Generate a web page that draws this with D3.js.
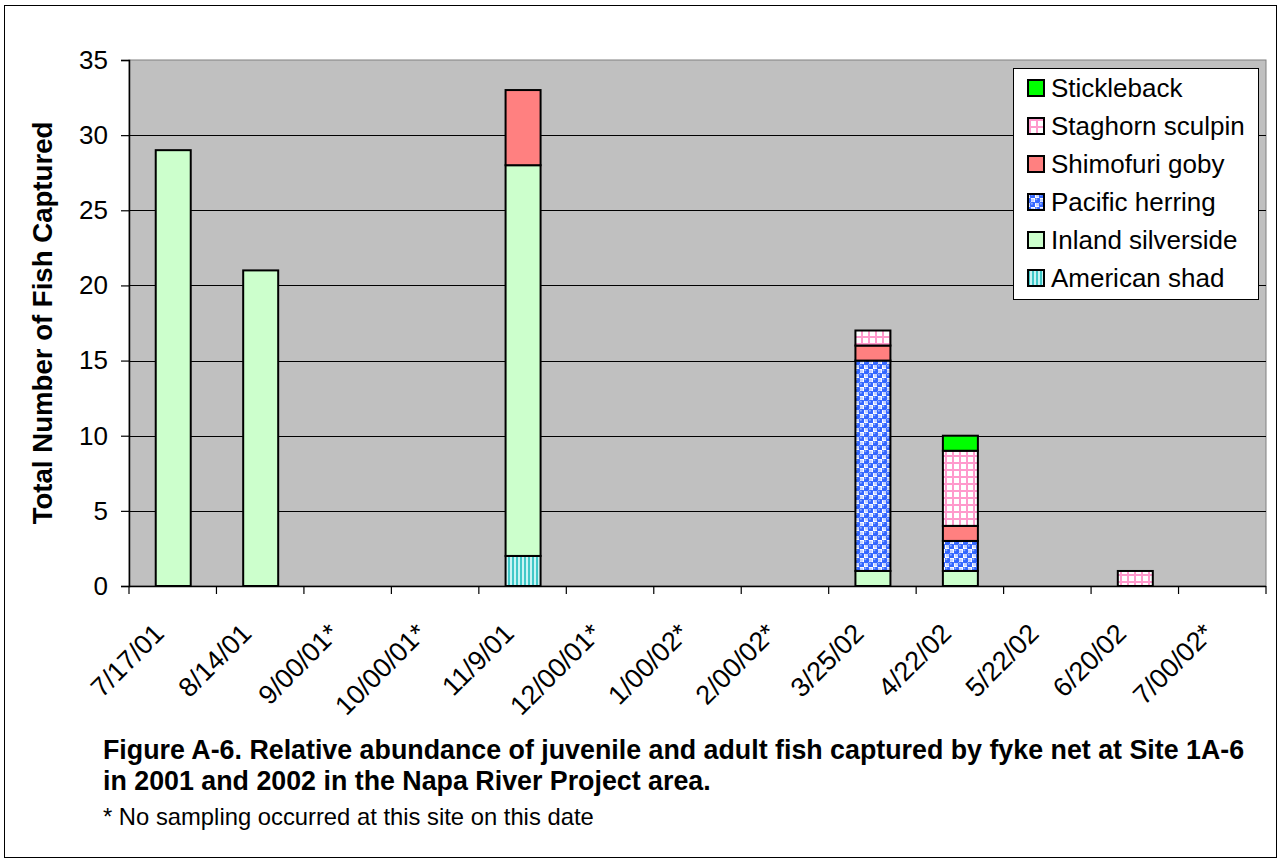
<!DOCTYPE html>
<html><head><meta charset="utf-8">
<script src="https://cdn.jsdelivr.net/npm/d3@7"></script>
<style>
html,body{margin:0;padding:0;background:#fff;}
svg{display:block;font-family:"Liberation Sans",Arial,sans-serif;}
</style></head>
<body>
<svg id="chart" width="1280" height="863"></svg>
<script>
const categories = ["7/17/01","8/14/01","9/00/01*","10/00/01*","11/9/01","12/00/01*","1/00/02*","2/00/02*","3/25/02","4/22/02","5/22/02","6/20/02","7/00/02*"];
const seriesNames = ["American shad","Inland silverside","Pacific herring","Shimofuri goby","Staghorn sculpin","Stickleback"];
const americanShad     = [0,0,0,0,2,0,0,0,0,0,0,0,0];
const inlandSilverside = [29,21,0,0,26,0,0,0,1,1,0,0,0];
const pacificHerring   = [0,0,0,0,0,0,0,0,14,2,0,0,0];
const shimofuriGoby    = [0,0,0,0,5,0,0,0,1,1,0,0,0];
const staghornSculpin  = [0,0,0,0,0,0,0,0,1,5,0,1,0];
const stickleback      = [0,0,0,0,0,0,0,0,0,1,0,0,0];
const yTicks = [0,5,10,15,20,25,30,35];
const yTitle = "Total Number of Fish Captured";
const captionLines = ["Figure A-6. Relative abundance of juvenile and adult fish captured by fyke net at Site 1A-6","in 2001 and 2002 in the Napa River Project area."];
const footnote = "* No sampling occurred at this site on this date";

(function(){
const seriesValues = [americanShad,inlandSilverside,pacificHerring,shimofuriGoby,staghornSculpin,stickleback];
const fills = ["url(#pShad)","#CCFFCC","url(#pHerring)","#FF8080","url(#pSculpin)","#00FF00"];

const svg = d3.select("#chart");
const defs = svg.append("defs");
let p = defs.append("pattern").attr("id","pShad").attr("patternUnits","userSpaceOnUse").attr("width",4).attr("height",4);
p.append("rect").attr("width",4).attr("height",4).attr("fill","#C8F4F4");
p.append("rect").attr("width",2).attr("height",4).attr("fill","#40C8C8");
p = defs.append("pattern").attr("id","pHerring").attr("patternUnits","userSpaceOnUse").attr("width",9).attr("height",9);
p.append("rect").attr("width",9).attr("height",9).attr("fill","#FFFFFF");
[[2.25,2.25],[6.75,6.75]].forEach(([cx,cy])=>{
  p.append("circle").attr("cx",cx).attr("cy",cy).attr("r",3.1).attr("fill","#3366FF");
  p.append("circle").attr("cx",cx-0.9).attr("cy",cy-0.9).attr("r",1).attr("fill","#8FAFFF");
});
[[6.75,2.25],[2.25,6.75]].forEach(([cx,cy])=>{
  p.append("circle").attr("cx",cx).attr("cy",cy).attr("r",1.4).attr("fill","#C4D2FF");
});
p = defs.append("pattern").attr("id","pSculpin").attr("patternUnits","userSpaceOnUse").attr("width",7).attr("height",7);
p.append("rect").attr("width",7).attr("height",7).attr("fill","#FFFFFF");
p.append("rect").attr("x",0).attr("y",0).attr("width",7).attr("height",2).attr("fill","#FF99CC");
p.append("rect").attr("x",0).attr("y",0).attr("width",2).attr("height",7).attr("fill","#FF99CC");

svg.append("rect").attr("x",4.5).attr("y",5.5).attr("width",1272).attr("height",852)
  .attr("fill","#fff").attr("stroke","#000").attr("stroke-width",1);

const pl=129, pr=1266, pt=60, pb=586;
const x = d3.scaleBand().domain(categories).range([pl,pr]).paddingInner(0).paddingOuter(0);
const y = d3.scaleLinear().domain([0,35]).range([pb,pt]);

svg.append("rect").attr("x",pl).attr("y",pt).attr("width",pr-pl).attr("height",pb-pt)
  .attr("fill","#C0C0C0").attr("stroke","#808080").attr("stroke-width",1);

svg.append("g").selectAll("line").data(yTicks.filter(d=>d>0&&d<35)).join("line")
  .attr("x1",pl).attr("x2",pr).attr("y1",d=>Math.round(y(d))+0.5).attr("y2",d=>Math.round(y(d))+0.5)
  .attr("stroke","#000").attr("stroke-width",1);

const table = categories.map((c,i)=>{const o={cat:c}; seriesNames.forEach((s,j)=>o[s]=seriesValues[j][i]); return o;});
const stacked = d3.stack().keys(seriesNames)(table);
const bw = 35;
stacked.forEach((layer,j)=>{
  svg.append("g").selectAll("rect").data(layer.filter(d=>d[1]-d[0]>0)).join("rect")
    .attr("x",d=>x(d.data.cat)+x.bandwidth()/2-bw/2+0.5)
    .attr("y",d=>y(d[1]))
    .attr("width",bw)
    .attr("height",d=>y(d[0])-y(d[1]))
    .attr("fill",fills[j]).attr("stroke","#000").attr("stroke-width",2);
});

const yAxis = d3.axisLeft(y).tickValues(yTicks).tickSize(8).tickPadding(13);
const yg = svg.append("g").attr("transform",`translate(${pl},0)`).call(yAxis);
yg.select(".domain").attr("stroke","#000").attr("stroke-width",1.5);
yg.selectAll(".tick line").attr("stroke","#000").attr("stroke-width",1.2);
yg.selectAll("text").attr("font-size",26).attr("fill","#000").attr("font-family","Liberation Sans, Arial, sans-serif");

const xg = svg.append("g");
xg.append("line").attr("x1",pl).attr("x2",pr).attr("y1",pb+0.5).attr("y2",pb+0.5).attr("stroke","#000").attr("stroke-width",1.5);
const bounds = categories.map(c=>x(c)).concat([pr]);
xg.selectAll("line.tk").data(bounds).join("line").attr("class","tk")
  .attr("x1",d=>d).attr("x2",d=>d).attr("y1",pb).attr("y2",pb+8)
  .attr("stroke","#000").attr("stroke-width",1.2);
xg.selectAll("text").data(categories).join("text")
  .attr("transform",d=>`translate(${x(d)+x.bandwidth()/2-7},${pb+49}) rotate(-45)`)
  .attr("text-anchor","end").attr("font-size",27).attr("fill","#000")
  .text(d=>d);

svg.append("text").attr("transform",`translate(52,${(pt+pb)/2}) rotate(-90)`)
  .attr("text-anchor","middle").attr("font-size",27.6).attr("font-weight","bold").text(yTitle);

const lg = svg.append("g");
lg.append("rect").attr("x",1013.5).attr("y",68.5).attr("width",245).attr("height",231)
  .attr("fill","#fff").attr("stroke","#000").attr("stroke-width",1);
const legendOrder = seriesNames.slice().reverse();
legendOrder.forEach((s,i)=>{
  const j = seriesNames.indexOf(s);
  const cy = 88 + i*38;
  lg.append("rect").attr("x",1028).attr("y",cy-8).attr("width",16).attr("height",16)
    .attr("fill",fills[j]).attr("stroke","#000").attr("stroke-width",2);
  lg.append("text").attr("x",1051).attr("y",cy).attr("dy","0.36em").attr("font-size",26).text(s);
});

captionLines.forEach((t,i)=>{
  svg.append("text").attr("x",103).attr("y",759+i*31).attr("font-size",26.8).attr("font-weight","bold").text(t);
});
svg.append("text").attr("x",103).attr("y",825).attr("font-size",23.8).text(footnote);
})();
</script>
</body></html>
